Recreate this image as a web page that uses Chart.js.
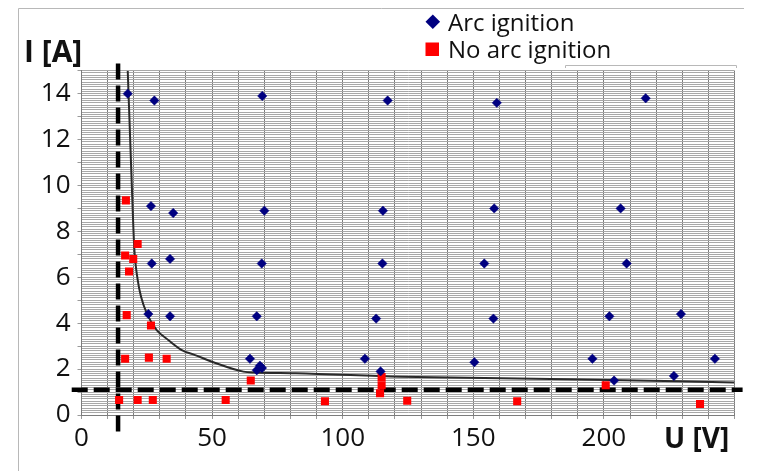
<!DOCTYPE html>
<html>
<head>
<meta charset="utf-8">
<script src="https://cdn.jsdelivr.net/npm/chart.js@4.4.0/dist/chart.umd.min.js"></script>
<style>
  body { margin: 0; background: #fff; }
  #wrap { width: 769px; height: 471px; position: relative; }
</style>
</head>
<body>
<div id="wrap"><canvas id="myChart" width="769" height="471"></canvas></div>
<script>
// measured points, U in volts, I in amperes
const arcLabel = 'Arc ignition';
const noArcLabel = 'No arc ignition';

const arcU = [17.7, 27.9, 69.2, 117.2, 159.0, 216.0,
  26.6, 35.1, 70.0, 115.4, 158.0, 206.4,
  26.9, 33.9, 69.0, 115.2, 154.2, 208.7,
  25.6, 33.9, 67.1, 112.8, 157.7, 202.1, 229.5,
  64.5, 108.5, 150.4, 195.6, 242.5,
  68.3, 67.1, 69.1, 114.5, 203.9, 226.8];
const arcI = [14.0, 13.7, 13.9, 13.7, 13.6, 13.8,
  9.1, 8.8, 8.9, 8.9, 9.0, 9.0,
  6.6, 6.8, 6.6, 6.6, 6.6, 6.6,
  4.4, 4.3, 4.3, 4.2, 4.2, 4.3, 4.4,
  2.45, 2.45, 2.3, 2.45, 2.45,
  2.15, 1.95, 2.05, 1.9, 1.5, 1.7];

const noArcU = [17.0, 21.5, 16.7, 19.8, 18.2, 17.3, 26.6, 16.7, 25.8, 32.6,
  64.8, 14.4, 21.5, 27.3, 55.2, 93.2, 114.9, 114.9, 114.3, 124.7, 166.8, 200.7, 236.8];
const noArcI = [9.35, 7.45, 6.95, 6.8, 6.25, 4.35, 3.9, 2.45, 2.5, 2.45,
  1.5, 0.65, 0.65, 0.65, 0.65, 0.6, 1.65, 1.3, 0.95, 0.62, 0.6, 1.3, 0.48];

const limitU = [17.7, 19.2, 20.2, 21.5, 22.8, 25.0, 28.8, 33.2, 38.4, 43.5, 50.5, 62.0, 66.0, 82.0, 122.0, 186.0, 250.0];
const limitI = [15.0, 10.2, 7.3, 5.9, 5.15, 4.43, 3.7, 3.27, 2.83, 2.61, 2.3, 1.89, 1.85, 1.82, 1.67, 1.56, 1.42];

const minVoltage = 14;
const minCurrent = 1.1;

const xTickLabels = [0, 50, 100, 150, 200];
const yTickLabels = [0, 2, 4, 6, 8, 10, 12, 14];

function toPoints(us, is) {
  return us.map((u, i) => ({ x: u, y: is[i] }));
}

const arcColor = '#000080';
const noArcColor = '#ff0000';
const fontFamily = "'Open Sans', 'Noto Sans', sans-serif";

// frame, axis titles and legend are drawn by hand like the original
const decorations = {
  id: 'decorations',
  beforeDraw(chart) {
    const ctx = chart.ctx;
    ctx.save();
    ctx.strokeStyle = '#b8b8b8';
    ctx.lineWidth = 1;
    ctx.beginPath();
    ctx.moveTo(18.5, 471);
    ctx.lineTo(18.5, 8.5);
    ctx.lineTo(744, 8.5);
    ctx.moveTo(565.5, 68);
    ctx.lineTo(565.5, 65.5);
    ctx.lineTo(736.5, 65.5);
    ctx.lineTo(736.5, 68);
    ctx.stroke();
    ctx.restore();
  },
  afterDraw(chart) {
    const ctx = chart.ctx;
    ctx.save();
    ctx.fillStyle = '#111';
    ctx.textBaseline = 'alphabetic';
    ctx.textAlign = 'left';
    ctx.font = "bold 30px " + fontFamily;
    ctx.fillText('I [A]', 24, 62);
    ctx.font = "bold 28px " + fontFamily;
    ctx.fillText('U [V]', 664, 448);

    // legend
    const sets = chart.data.datasets;
    ctx.fillStyle = sets[0].backgroundColor;
    ctx.beginPath();
    ctx.moveTo(425.5, 21.7);
    ctx.lineTo(432.8, 14.4);
    ctx.lineTo(440.1, 21.7);
    ctx.lineTo(432.8, 29);
    ctx.closePath();
    ctx.fill();
    ctx.fillStyle = sets[1].backgroundColor;
    ctx.fillRect(425.5, 42.5, 13.5, 13.5);
    ctx.fillStyle = '#111';
    ctx.font = "24px " + fontFamily;
    ctx.fillText(sets[0].label, 448, 31);
    ctx.fillText(sets[1].label, 448, 57.5);
    ctx.restore();
  }
};

const ctx = document.getElementById('myChart').getContext('2d');
new Chart(ctx, {
  type: 'scatter',
  data: {
    datasets: [{
      label: arcLabel,
      data: toPoints(arcU, arcI),
      backgroundColor: arcColor,
      borderColor: arcColor,
      borderWidth: 0.5,
      pointStyle: 'rectRot',
      pointRadius: 4.7
    }, {
      label: noArcLabel,
      data: toPoints(noArcU, noArcI),
      backgroundColor: noArcColor,
      borderColor: noArcColor,
      borderWidth: 0,
      pointStyle: 'rect',
      pointRadius: 5.7
    }, {
      label: 'limit',
      data: toPoints(limitU, limitI),
      showLine: true,
      borderColor: '#2a2a2a',
      borderWidth: 2,
      pointRadius: 0,
      cubicInterpolationMode: 'monotone'
    }, {
      label: 'U min',
      data: [{ x: minVoltage, y: -0.72 }, { x: minVoltage, y: 15.55 }],
      showLine: true,
      borderColor: '#000',
      borderWidth: 4.5,
      borderDash: [16, 6],
      pointRadius: 0,
      clip: false
    }, {
      label: 'I min',
      data: [{ x: -3.75, y: minCurrent }, { x: 253.1, y: minCurrent }],
      showLine: true,
      borderColor: '#000',
      borderWidth: 4.5,
      borderDash: [16, 6],
      pointRadius: 0,
      clip: false
    }]
  },
  options: {
    responsive: false,
    animation: false,
    devicePixelRatio: 1,
    layout: { padding: { top: 70.7, right: 34.5, bottom: 0, left: 0 } },
    plugins: {
      legend: { display: false },
      tooltip: { enabled: false }
    },
    scales: {
      x: {
        type: 'linear',
        min: 0,
        max: 250,
        afterFit(scale) { scale.height = 56; },
        ticks: {
          stepSize: 10,
          autoSkip: false,
          maxRotation: 0,
          padding: 4,
          color: '#111',
          font: { family: fontFamily, size: 26 },
          callback: v => xTickLabels.includes(Math.round(v)) ? String(Math.round(v)) : ''
        },
        grid: { color: '#7c7c7c', lineWidth: 1, tickLength: 4, tickColor: '#9a9a9a' },
        border: { color: '#7c7c7c' }
      },
      y: {
        type: 'linear',
        min: 0,
        max: 15,
        afterFit(scale) { scale.width = 81.5; },
        ticks: {
          stepSize: 0.1,
          autoSkip: false,
          padding: 7,
          color: '#111',
          font: { family: fontFamily, size: 26 },
          callback: v => {
            const r = Math.round(v * 10) / 10;
            return yTickLabels.includes(r) ? String(r) : '';
          }
        },
        grid: {
          color: '#a8a8a8',
          lineWidth: 1,
          tickLength: 4,
          tickColor: c => Number.isInteger(Math.round(c.tick.value * 10) / 10) ? '#9a9a9a' : 'rgba(0,0,0,0)'
        },
        border: { color: '#7c7c7c' }
      }
    }
  },
  plugins: [decorations]
});
</script>
</body>
</html>
